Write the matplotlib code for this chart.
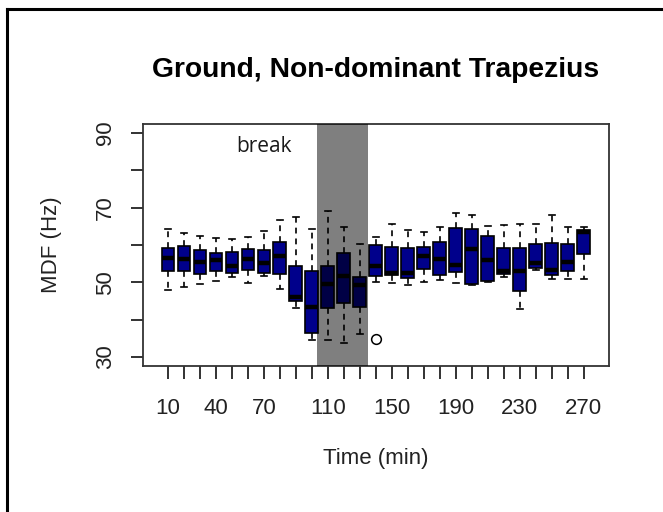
import numpy as np
import matplotlib.pyplot as plt
from matplotlib.lines import Line2D

plt.rcParams['font.family'] = ['Liberation Sans', 'DejaVu Sans']

# MDF summaries per 10-minute block
times = [10, 20, 30, 40, 50, 60, 70, 80, 90, 100, 110, 120, 130, 140,
         150, 160, 170, 180, 190, 200, 210, 220, 230, 240, 250, 260, 270]
whis_hi = [64.4, 63.1, 62.3, 62.0, 61.7, 62.1, 63.8, 66.6, 67.6, 64.2, 69.1, 64.8, 60.2, 62.1,
           65.5, 64.0, 63.5, 64.8, 68.7, 67.9, 65.0, 65.4, 65.5, 65.5, 67.9, 64.8, 64.8]
q3 = [59.1, 59.7, 58.7, 57.8, 58.1, 59.0, 58.6, 60.8, 54.3, 53.0, 54.4, 57.8, 51.5, 60.0,
      59.5, 59.1, 59.5, 60.8, 64.6, 64.3, 62.5, 59.3, 59.3, 60.2, 60.5, 60.2, 63.9]
med = [56.4, 56.3, 55.5, 56.1, 54.4, 56.3, 55.1, 57.1, 46.1, 43.4, 49.6, 51.6, 49.3, 54.3,
       52.6, 52.6, 57.1, 56.3, 54.6, 59.0, 55.9, 53.0, 53.0, 55.1, 53.2, 55.5, 63.5]
q1 = [53.0, 53.0, 52.3, 53.1, 52.4, 53.2, 52.4, 52.3, 45.0, 36.5, 43.0, 44.5, 43.5, 51.7,
      52.0, 51.1, 53.6, 52.0, 52.8, 49.5, 50.4, 52.3, 47.7, 53.8, 52.0, 53.0, 57.5]
whis_lo = [47.9, 48.8, 49.6, 50.4, 51.5, 49.7, 51.7, 48.1, 43.0, 34.6, 34.5, 33.8, 36.1, 50.1,
           49.7, 49.3, 50.2, 50.5, 49.7, 49.4, 50.2, 51.4, 42.8, 53.3, 51.0, 51.0, 51.0]
outliers = {140: [34.7]}

shown_labels = [10, 40, 70, 110, 150, 190, 230, 270]
break_start, break_end = 10.35, 13.53   # box positions covered by the break

stats = []
for i, t in enumerate(times):
    stats.append({'med': med[i], 'q1': q1[i], 'q3': q3[i],
                  'whislo': whis_lo[i], 'whishi': whis_hi[i],
                  'fliers': outliers.get(t, [])})

fig = plt.figure(figsize=(6.63, 5.12), dpi=100)
ax = fig.add_axes([0.2152, 0.2852, 0.7034, 0.4726])

pos = np.arange(1, len(times) + 1)
ax.bxp(stats, positions=pos, widths=0.8, capwidths=0.4, patch_artist=True,
       boxprops=dict(facecolor='#00008B', edgecolor='black', linewidth=1.2),
       medianprops=dict(color='black', linewidth=3.2, solid_capstyle='butt'),
       whiskerprops=dict(color='black', linewidth=1.2, linestyle=(0, (3.5, 3))),
       capprops=dict(color='black', linewidth=1.2),
       flierprops=dict(marker='o', markerfacecolor='none', markeredgecolor='black',
                       markersize=7, markeredgewidth=1.1))

ax.axvspan(break_start, break_end, color='black', alpha=0.5, lw=0, zorder=5)
ax.text(7.0, 86.3, 'break', fontsize=15, family=['Open Sans', 'DejaVu Sans'],
        color='#1a1a1a', ha='center', va='center')

ax.set_xlim(-0.58, 28.58)
ax.set_ylim(27.6, 92.4)
ax.set_xticks(pos)
ax.set_xticklabels([str(t) if t in shown_labels else '' for t in times])
ax.set_yticks([30, 40, 50, 60, 70, 80, 90])
ax.set_yticklabels(['30', '', '50', '', '70', '', '90'], rotation=90, va='center')
ax.tick_params(direction='out', length=9, width=1.3, labelsize=16, pad=14,
               colors='#222222')
ax.tick_params(axis='y', pad=10)
for s in ax.spines.values():
    s.set_linewidth(1.3)
    s.set_color('#333333')

ax.set_title('Ground, Non-dominant Trapezius', fontsize=20.3, fontweight='bold',
             pad=34)
ax.set_xlabel('Time (min)', fontsize=16, labelpad=21, color='#222222')
ax.set_ylabel('MDF (Hz)', fontsize=16, labelpad=24, color='#222222')

# frame lines along the top and left of the page
fig.add_artist(Line2D([0.0105, 0.0105], [0.0, 0.983], color='black', lw=2.2,
                      transform=fig.transFigure))
fig.add_artist(Line2D([0.0105, 1.0], [0.983, 0.983], color='black', lw=2.2,
                      transform=fig.transFigure))

fig.savefig('out.png', dpi=100)
